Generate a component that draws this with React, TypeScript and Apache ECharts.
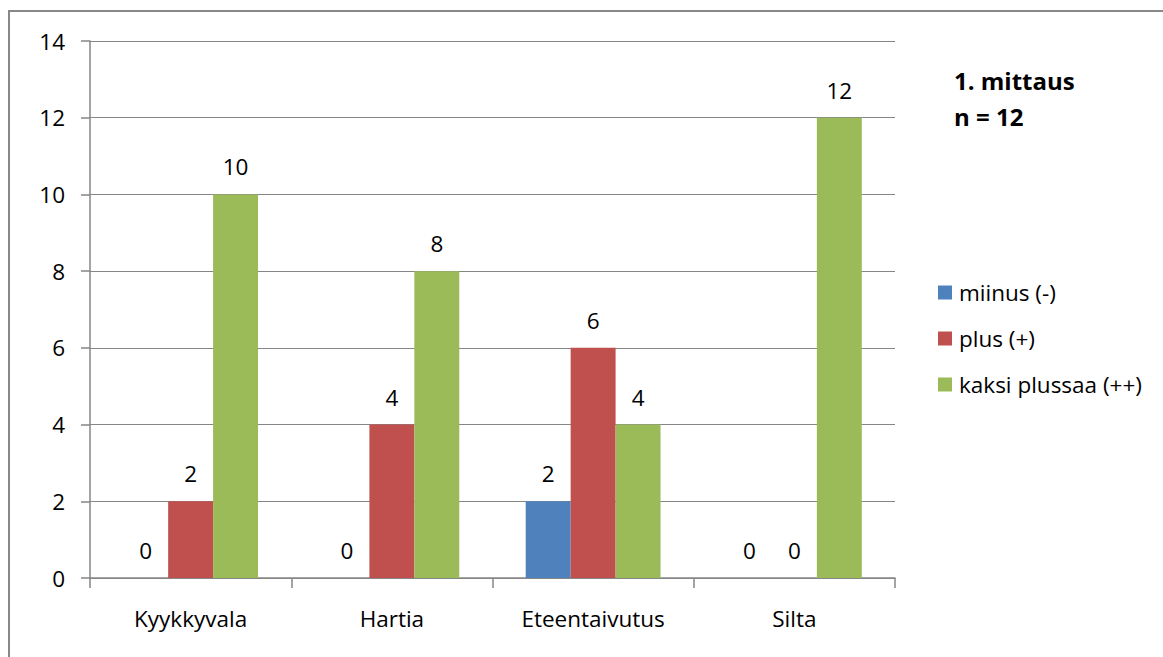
import React, { useEffect, useRef } from "react";
import * as echarts from "echarts";

const categories = ["Kyykkyvala", "Hartia", "Eteentaivutus", "Silta"];
const miinus = [0, 0, 2, 0];
const plus = [2, 4, 6, 0];
const kaksiPlussaa = [10, 8, 4, 12];
const seriesNames = ["miinus (-)", "plus (+)", "kaksi plussaa (++)"];
const titleLines = ["1. mittaus", "n = 12"];

const FONT = "Open Sans";
const FS = 22.5;

export default function App() {
  const ref = useRef<HTMLDivElement>(null);
  useEffect(() => {
    if (!ref.current) return;
    const chart = echarts.init(ref.current, undefined, { renderer: "svg" });
    const label = {
      show: true,
      position: "top",
      distance: 16,
      fontSize: FS,
      color: "#000",
      fontFamily: FONT,
    };
    chart.setOption({
      animation: false,
      textStyle: { fontFamily: FONT },
      grid: { left: 90, right: 268, top: 41, bottom: 79 },
      legend: {
        orient: "vertical",
        left: 933,
        top: 274,
        itemWidth: 14,
        itemHeight: 14,
        itemGap: 19,
        icon: "rect",
        textStyle: { fontSize: FS, color: "#000", fontFamily: FONT, padding: [0, 0, 0, 2], lineHeight: 27 },
        data: seriesNames,
      },
      xAxis: {
        type: "category",
        data: categories,
        axisLine: { show: true, lineStyle: { color: "#868686", width: 1.5 } },
        axisTick: { show: true, length: 10, lineStyle: { color: "#868686", width: 1.5 } },
        axisLabel: { fontSize: FS, color: "#000", margin: 29, fontFamily: FONT },
      },
      yAxis: {
        type: "value",
        min: 0,
        max: 14,
        interval: 2,
        axisLine: { show: true, lineStyle: { color: "#868686", width: 1.5 } },
        axisTick: { show: true, length: 9, lineStyle: { color: "#868686", width: 1.5 } },
        axisLabel: { fontSize: FS, color: "#000", margin: 25, fontFamily: FONT },
        splitLine: { show: true, lineStyle: { color: "#868686", width: 1.2 } },
      },
      series: [
        { name: seriesNames[0], type: "bar", data: miinus, barGap: "0%", barCategoryGap: "33%", itemStyle: { color: "#4F81BD" }, label },
        { name: seriesNames[1], type: "bar", data: plus, barGap: "0%", barCategoryGap: "33%", itemStyle: { color: "#C0504D" }, label },
        { name: seriesNames[2], type: "bar", data: kaksiPlussaa, barGap: "0%", barCategoryGap: "33%", itemStyle: { color: "#9BBB59" }, label },
      ],
      graphic: [
        {
          type: "rect",
          shape: { x: 9, y: 11, width: 1200, height: 700 },
          style: { fill: "none", stroke: "#888888", lineWidth: 2 },
          silent: true,
        },
        {
          type: "text",
          left: 954,
          top: 68,
          style: { text: titleLines[0], fontSize: 24, fontWeight: "bold", fontFamily: FONT, fill: "#000" },
        },
        {
          type: "text",
          left: 954,
          top: 104,
          style: { text: titleLines[1], fontSize: 24, fontWeight: "bold", fontFamily: FONT, fill: "#000" },
        },
      ],
    });
    return () => chart.dispose();
  }, []);
  return (
    <div
      ref={ref}
      style={{ position: "absolute", left: 0, top: 0, width: 1163, height: 657, background: "#fff" }}
    />
  );
}
